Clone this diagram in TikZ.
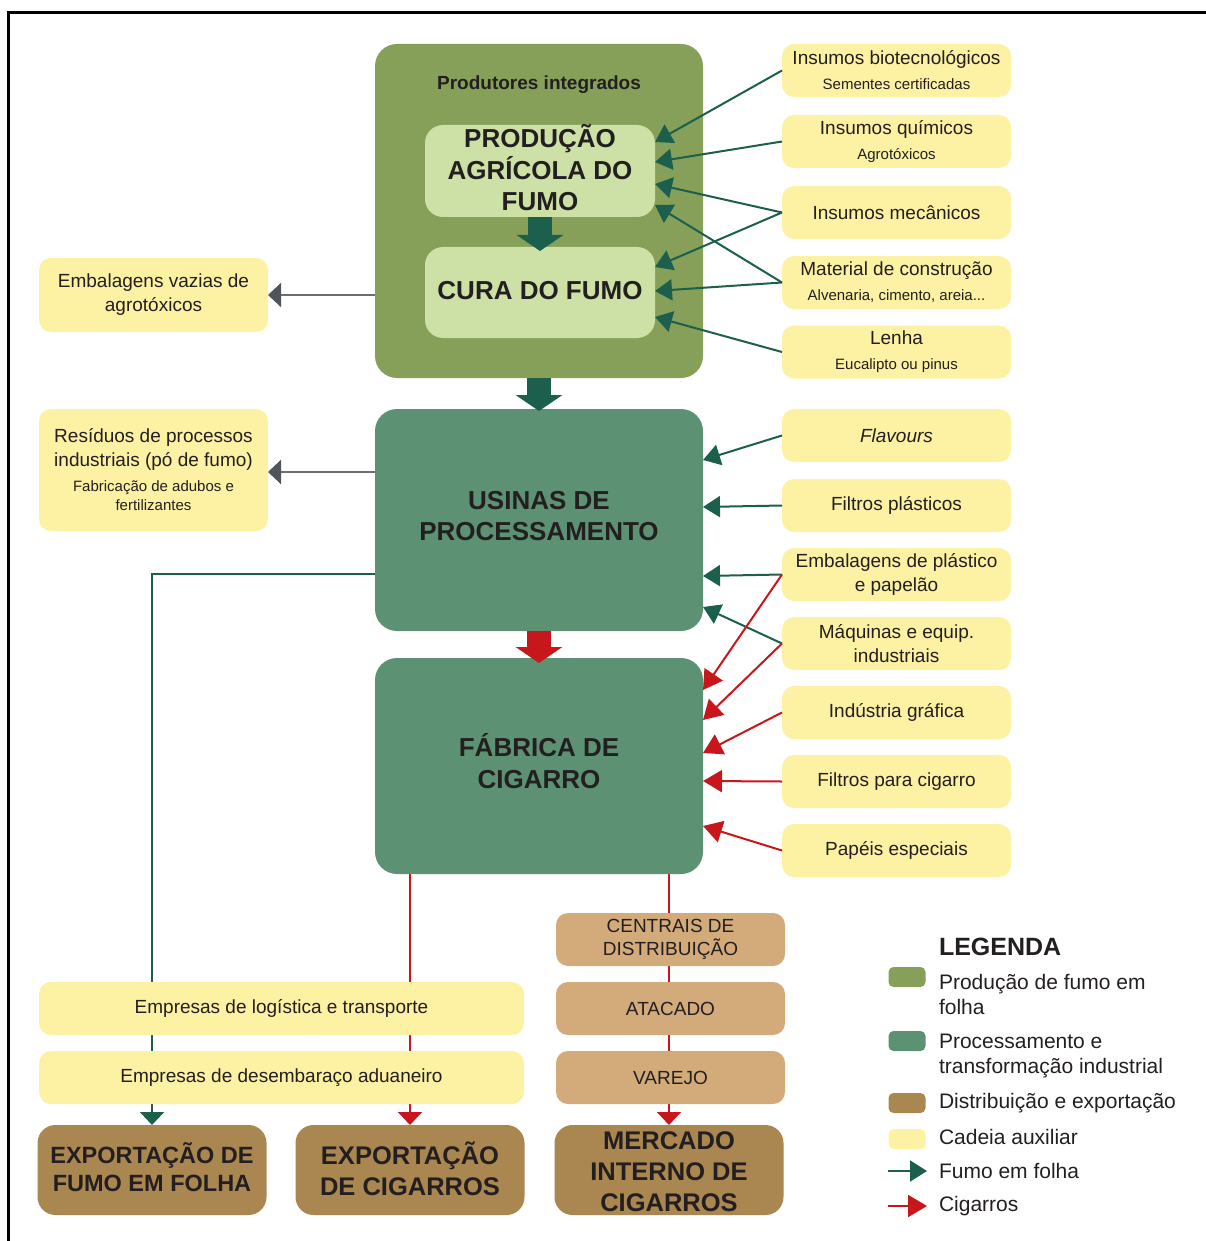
\documentclass[tikz,border=0pt]{standalone}
\usepackage{fontspec}
\setmainfont{Liberation Sans}
\usetikzlibrary{arrows.meta,calc}
\definecolor{cOlive}{HTML}{86A059}
\definecolor{cLight}{HTML}{CDE1A7}
\definecolor{cProc}{HTML}{5C9174}
\definecolor{cDkG}{HTML}{1B5F4C}
\definecolor{cRed}{HTML}{C8161D}
\definecolor{cYel}{HTML}{FDF1A3}
\definecolor{cTan}{HTML}{D3AB7A}
\definecolor{cBrown}{HTML}{AA8651}
\definecolor{cGray}{HTML}{6B6E72}
\definecolor{cGrayD}{HTML}{50555B}
\definecolor{txt}{HTML}{231F20}
\newcommand\smalltxt[1]{{\fontsize{15}{18}\selectfont #1}}
\pgfdeclarelayer{bg}
\pgfsetlayers{bg,main}
\begin{document}
\begin{tikzpicture}[x=1pt,y=-1pt,
  every node/.style={inner sep=0pt,outer sep=0pt,text=txt,align=center},
  aux/.style={fill=cYel,rounded corners=12pt,minimum width=229pt,minimum height=53pt,font=\fontsize{19}{24}\selectfont},
  tanbox/.style={fill=cTan,rounded corners=12pt,minimum width=229pt,minimum height=53pt,font=\fontsize{19}{23}\selectfont},
  bigbox/.style={fill=cProc,rounded corners=22pt,minimum width=328pt},
  inbox/.style={fill=cLight,rounded corners=18pt,minimum width=230pt},
  titletxt/.style={font=\bfseries\fontsize{26}{31.5}\selectfont},
  endbox/.style={fill=cBrown,rounded corners=18pt,minimum width=229pt,minimum height=90pt},
  endtxt/.style={font=\bfseries\fontsize{25.5}{31}\selectfont},
  swatch/.style={rounded corners=5pt,minimum width=37pt,minimum height=20pt},
  legtxt/.style={anchor=west,align=left,font=\fontsize{21}{25}\selectfont},
  garr/.style={draw=cDkG,line width=2pt,-{Triangle[length=17pt,width=21pt]}},
  rarr/.style={draw=cRed,line width=2pt,-{Triangle[length=19pt,width=22pt]}},
  grarr/.style={draw=cGray,line width=2pt,-{Triangle[length=13pt,width=24pt,color=cGrayD]}},
  gline/.style={draw=cDkG,line width=2pt,-{Triangle[length=13pt,width=24pt]}},
  rline/.style={draw=cRed,line width=2pt,-{Triangle[length=13pt,width=24pt]}},
  bigarr/.style={line width=24pt,-{Triangle[length=16pt,width=46pt]}}
]
\useasboundingbox (0,0) rectangle (1206,1241);
\draw[line width=3pt] (8,1241) -- (8,13) -- (1206,13);

% main column
\node[bigbox,fill=cOlive,minimum height=334pt] (prod) at (539,211) {};
\node[font=\bfseries\fontsize{19}{22}\selectfont] (pi) at (539,85) {Produtores integrados};
\node[inbox,minimum height=92pt] (agri) at (540,171) {};
\node[titletxt] (agriT) at (540,168) {PRODUÇÃO\\AGRÍCOLA DO\\FUMO};
\node[inbox,minimum height=91pt] (cura) at (540,292.5) {};
\node[titletxt] (curaT) at (540,291) {CURA DO FUMO};
\node[bigbox,minimum height=222pt] (usina) at (539,520) {};
\node[titletxt] (usinaT) at (539,516) {USINAS DE\\PROCESSAMENTO};
\node[bigbox,minimum height=216pt] (fab) at (539,766) {};
\node[titletxt] (fabT) at (539,761) {FÁBRICA DE\\CIGARRO};

\draw[bigarr,draw=cDkG,shorten >=-4pt] (agri.south) -- (cura.north);
\draw[bigarr,draw=cDkG,shorten >=-2pt] (prod.south) -- (usina.north);
\draw[bigarr,draw=cRed,shorten >=-5pt] (usina.south) -- (fab.north);

% right auxiliary boxes
\node[aux] (bio) at (896.5,70.5) {\raisebox{1pt}{Insumos biotecnológicos}\\[0pt]\smalltxt{Sementes certificadas}};
\node[aux] (qui) at (896.5,141.5) {\raisebox{1pt}{Insumos químicos}\\[0pt]\smalltxt{Agrotóxicos}};
\node[aux] (mec) at (896.5,212.5) {Insumos mecânicos};
\node[aux] (mat) at (896.5,282.5) {\raisebox{1pt}{Material de construção}\\[0pt]\smalltxt{Alvenaria, cimento, areia...}};
\node[aux] (len) at (896.5,352) {\raisebox{1pt}{Lenha}\\[0pt]\smalltxt{Eucalipto ou pinus}};
\node[aux] (fla) at (896.5,435.5) {\itshape Flavours};
\node[aux] (fpl) at (896.5,505.5) {Filtros plásticos};
\node[aux] (emb) at (896.5,574.5) {Embalagens de plástico\\e papelão};
\node[aux] (maq) at (896.5,643.5) {Máquinas e equip.\\industriais};
\node[aux] (gra) at (896.5,712.5) {Indústria gráfica};
\node[aux] (fci) at (896.5,781.5) {Filtros para cigarro};
\node[aux] (pap) at (896.5,850.5) {Papéis especiais};

% left auxiliary boxes
\node[aux,minimum height=74pt] (vaz) at (153.5,295) {Embalagens vazias de\\agrotóxicos};
\node[aux,minimum height=122pt] (res) at (153.5,470) {Resíduos de processos\\industriais (pó de fumo)\\[1pt]{\fontsize{15}{18}\selectfont Fabricação de adubos e}\\[-5pt]\smalltxt{fertilizantes}};

% arrows into production
\draw[garr] (bio.west) -- (agri.east |- 0,142);
\draw[garr] (qui.west) -- (agri.east |- 0,162);
\draw[garr] (mec.west) -- (agri.east |- 0,184);
\draw[garr] (mec.west) -- (cura.east |- 0,267);
\draw[garr] (mat.west) -- (agri.east |- 0,205);
\draw[garr] (mat.west) -- (cura.east |- 0,291);
\draw[garr] (len.west) -- (cura.east |- 0,317);

% arrows into usinas
\draw[garr] (fla.west) -- (usina.east |- 0,460);
\draw[garr] (fpl.west) -- (usina.east |- 0,507);
\draw[garr] (emb.west) -- (usina.east |- 0,576);
\draw[garr] (maq.west) -- (usina.east |- 0,607);

% arrows into fabrica
\draw[rarr] (emb.west) -- (fab.east |- 0,690);
\draw[rarr] (maq.west) -- (fab.east |- 0,720);
\draw[rarr] (gra.west) -- (fab.east |- 0,753);
\draw[rarr] (fci.west) -- (fab.east |- 0,781);
\draw[rarr] (pap.west) -- (fab.east |- 0,826);

% gray outputs
\draw[grarr] (prod.west |- vaz.east) -- (vaz.east);
\draw[grarr] (usina.west |- 0,472) -- (res.east |- 0,472);

% bottom boxes
\node[aux,minimum width=485pt] (log) at (281.5,1008.5) {Empresas de logística e transporte};
\node[aux,minimum width=485pt] (adu) at (281.5,1077.5) {Empresas de desembaraço aduaneiro};
\node[tanbox] (cen) at (670.5,939.5) {CENTRAIS DE\\DISTRIBUIÇÃO};
\node[tanbox] (ata) at (670.5,1008.5) {ATACADO};
\node[tanbox] (var) at (670.5,1077.5) {VAREJO};
\node[endbox] (expf) at (152,1170) {};
\node[font=\bfseries\fontsize{23.5}{28}\selectfont] (expfT) at (152,1167) {EXPORTAÇÃO DE\\FUMO EM FOLHA};
\node[endbox] (expc) at (410,1170) {};
\node[endtxt] (expcT) at (410,1169) {EXPORTAÇÃO\\DE CIGARROS};
\node[endbox] (merc) at (669,1170) {};
\node[endtxt] (mercT) at (669,1172) {MERCADO\\INTERNO DE\\CIGARROS};

\begin{pgfonlayer}{bg}
\draw[gline] (usina.west |- 0,574) -| (expf.north);
\draw[rline] (fab.south -| expc.north) -- (expc.north);
\draw[rline] (fab.south -| merc.north) -- (merc.north);
\end{pgfonlayer}

% legend
\node[anchor=west,font=\bfseries\fontsize{25}{28}\selectfont] (leg) at (939,947) {LEGENDA};
\node[swatch,fill=cOlive] (s1) at (907,977) {};
\node[swatch,fill=cProc] (s2) at (907,1041) {};
\node[swatch,fill=cBrown] (s3) at (907,1103) {};
\node[swatch,fill=cYel] (s4) at (907,1139) {};
\node[legtxt] (t1) at (939,994.5) {Produção de fumo em\\folha};
\node[legtxt] (t2) at (939,1056) {Processamento e\\transformação industrial};
\node[legtxt] (t3) at (939,1103) {Distribuição e exportação};
\node[legtxt] (t4) at (939,1137) {Cadeia auxiliar};
\node[legtxt] (t5) at (939,1171) {Fumo em folha};
\node[legtxt] (t6) at (939,1206) {Cigarros};
\coordinate (la) at (888,1171);
\coordinate (lb) at (927,1171);
\coordinate (lc) at (888,1206);
\coordinate (ld) at (927,1206);
\draw[garr] (la) -- (lb);
\draw[rarr] (lc) -- (ld);
\end{tikzpicture}
\end{document}
